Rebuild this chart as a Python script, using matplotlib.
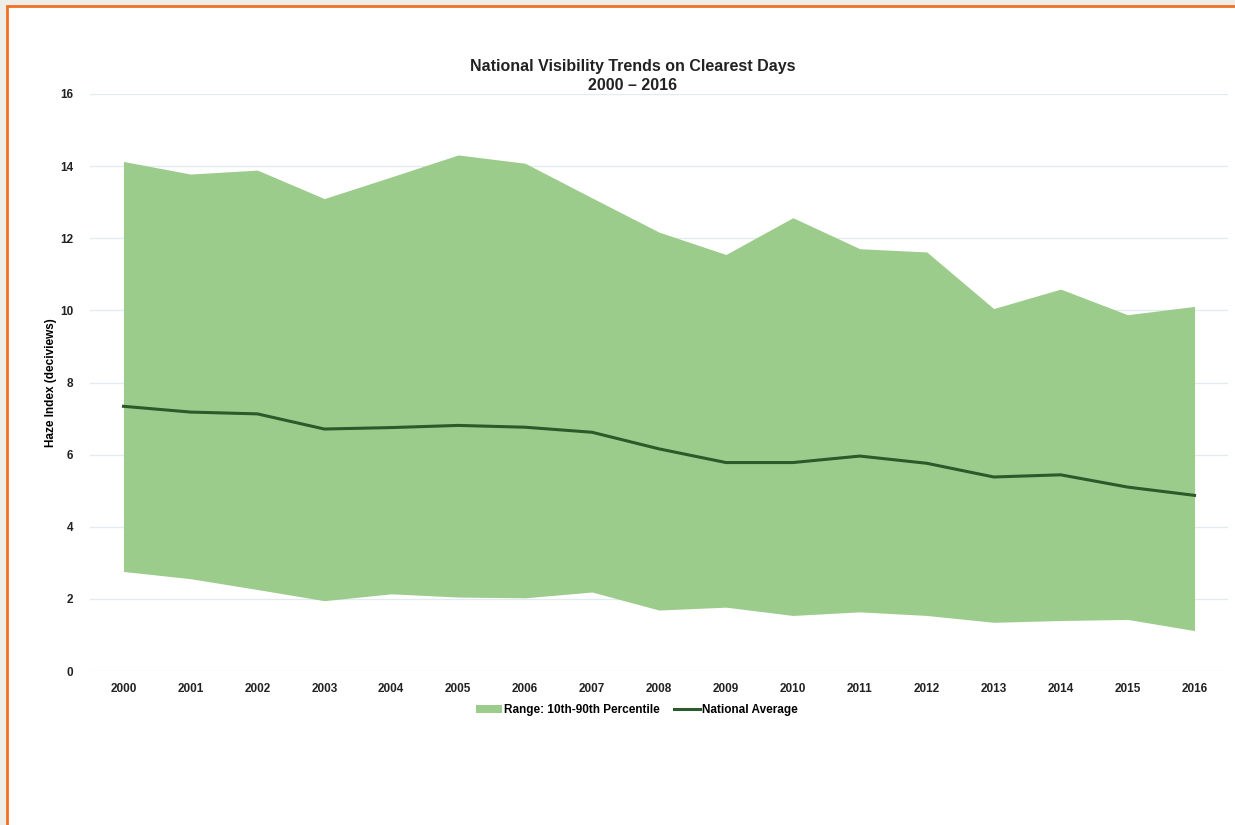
import matplotlib.pyplot as plt
import matplotlib.patches as patches
import numpy as np

plt.rcParams['font.family'] = ['Liberation Sans', 'DejaVu Sans']

years = list(range(2000, 2017))
p90 = [14.13, 13.78, 13.89, 13.10, 13.70, 14.31, 14.08, 13.12, 12.17,
       11.55, 12.57, 11.71, 11.62, 10.05, 10.59, 9.88, 10.11]
p10 = [2.76, 2.56, 2.26, 1.95, 2.14, 2.05, 2.03, 2.19, 1.69,
       1.77, 1.54, 1.64, 1.54, 1.35, 1.40, 1.43, 1.12]
national_avg = [7.34, 7.18, 7.13, 6.71, 6.75, 6.81, 6.76, 6.62, 6.16,
                5.78, 5.78, 5.96, 5.76, 5.38, 5.44, 5.10, 4.87]
yticks = [0, 2, 4, 6, 8, 10, 12, 14, 16]

fig = plt.figure(figsize=(12.35, 8.25), dpi=100)
fig.patch.set_facecolor('#eeede8')

# white panel with orange border (left/top visible only)
panel = patches.Rectangle((7 / 1235, -0.05), 1.1, 1 - 6 / 825 + 0.05,
                          transform=fig.transFigure, facecolor='white',
                          edgecolor='#f07022', linewidth=2, zorder=-5)
fig.patches.append(panel)

ax = fig.add_axes([90 / 1235, 1 - 671 / 825, (1228 - 90) / 1235, (671 - 94) / 825])
ax.set_zorder(2)
ax.set_facecolor('none')

ax.fill_between(years, p10, p90, color='#9ccc8b', linewidth=0,
                label='Range: 10th-90th Percentile', zorder=2)
ax.plot(years, national_avg, color='#2b5a2b', linewidth=2.2,
        label='National Average', zorder=3)

ax.set_xlim(1999.5, 2016.5)
ax.set_ylim(0, 16)
ax.set_xticks(years)
ax.set_xticklabels([str(y) for y in years], fontsize=8.5, fontweight='bold', color='#222222')
ax.set_yticks(yticks)
ax.set_yticklabels([str(v) for v in yticks], fontsize=8.5, fontweight='bold', color='#222222')
ax.tick_params(length=0, pad=9)
ax.tick_params(axis='y', pad=12)
for s in ax.spines.values():
    s.set_visible(False)
ax.grid(axis='y', color='#e2ebf0', linewidth=1, zorder=1)
ax.set_axisbelow(True)

ax.set_ylabel('Haze Index (deciviews)', fontsize=8.5, fontweight='bold', labelpad=2)

fig.text(633 / 1235, 1 - 76 / 825, 'National Visibility Trends on Clearest Days\n2000 \u2013 2016',
         ha='center', va='center', fontsize=11.5, fontweight='bold', color='#222222',
         linespacing=1.3)

leg = fig.legend(loc='center', bbox_to_anchor=(637 / 1235, 1 - 710 / 825), ncol=2,
                 frameon=False, handlelength=2.2, handletextpad=0.2,
                 columnspacing=1.2, prop={'weight': 'bold', 'size': 8.5})

fig.savefig('out.png', dpi=100, facecolor=fig.get_facecolor())
